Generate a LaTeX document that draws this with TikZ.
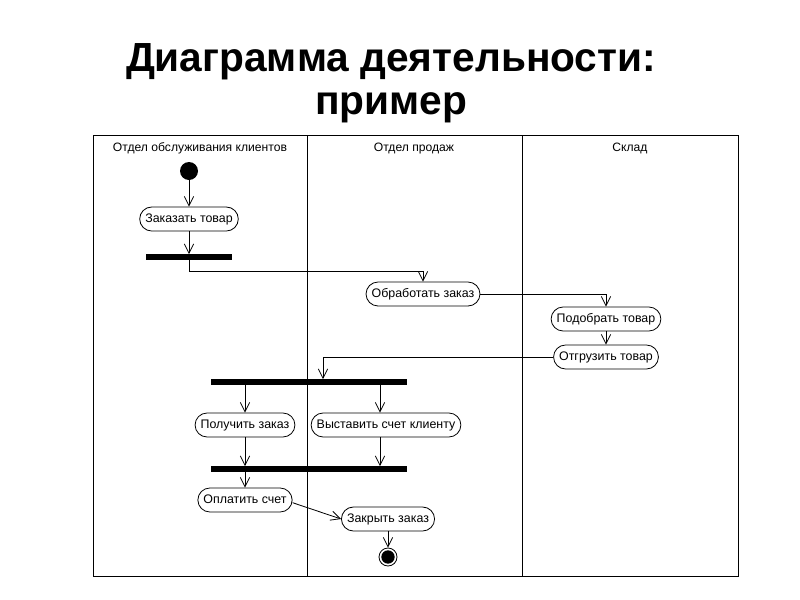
\documentclass[tikz,border=0pt]{standalone}
\usepackage{fontspec}
\setmainfont{Liberation Sans}
\usetikzlibrary{arrows.meta}
\begin{document}
\begin{tikzpicture}[x=0.75pt,y=-0.75pt,
  act/.style={draw, rounded corners=9pt, minimum height=18pt, inner xsep=4.2pt, inner ysep=0pt, text height=6.8pt, text depth=2pt, font=\fontsize{9.3}{11}\selectfont, line width=0.6pt},
  bar/.style={fill=black, inner sep=0pt, minimum height=4pt},
  flow/.style={draw, line width=0.6pt, -{Straight Barb[length=7pt,width=7pt]}},
  lanetitle/.style={font=\fontsize{9.1}{11}\selectfont, anchor=base},
  titletext/.style={font=\fontsize{30.5}{36}\bfseries\selectfont, anchor=base}
]
\useasboundingbox (0,0) rectangle (800,600);
% title
\node[titletext] (t1) at (391,71) {Диаграмма деятельности:};
\node[titletext] (t2) at (391,114) {пример};
% swimlanes
\draw[line width=0.7pt] (93,135) rectangle (738,576);
\draw[line width=0.7pt] (307,135) -- (307,576);
\draw[line width=0.7pt] (522,135) -- (522,576);
\node[lanetitle] (l1) at (200,151) {Отдел обслуживания клиентов};
\node[lanetitle] (l2) at (414,151) {Отдел продаж};
\node[lanetitle] (l3) at (630,151) {Склад};
% nodes
\node[circle, fill=black, minimum size=13.5pt, inner sep=0pt] (init) at (189,171) {};
\node[act] (order) at (189,219) {Заказать товар};
\node[bar, minimum width=64.5pt] (bar1) at (189,257) {};
\node[act] (process) at (423,294) {Обработать заказ};
\node[act] (pick) at (606,319) {Подобрать товар};
\node[act] (ship) at (606,357) {Отгрузить товар};
\node[bar, minimum width=147pt] (bar2) at (309,382) {};
\node[act] (get) at (245,425) {Получить заказ};
\node[act] (bill) at (386,425) {Выставить счет клиенту};
\node[bar, minimum width=147pt] (bar3) at (309,469) {};
\node[act] (pay) at (245,500) {Оплатить счет};
\node[act] (close) at (388,519) {Закрыть заказ};
\node[circle, draw, line width=0.6pt, minimum size=13.5pt, inner sep=0pt,
  path picture={\fill (path picture bounding box.center) circle (5pt);}] (final) at (388,557) {};
\coordinate (c323) at (323,0);
\coordinate (c380) at (380,0);
% flows
\draw[flow] (init) -- (order);
\draw[flow] (order) -- (bar1);
\draw[flow] (bar1.south) -- ++(0,11) -| (process.north);
\draw[flow] (process.east) -| (pick.north);
\draw[flow] (pick) -- (ship);
\draw[flow] (ship.west) -| (bar2.north -| c323);
\draw[flow] (bar2.south -| get.north) -- (get.north);
\draw[flow] (bar2.south -| c380) -- (bill.north -| c380);
\draw[flow] (get.south) -- (bar3.north -| get.south);
\draw[flow] (bill.south -| c380) -- (bar3.north -| c380);
\draw[flow] (bar3.south -| pay.north) -- (pay.north);
\draw[flow] ([yshift=-2pt]pay.east) -- (close.west);
\draw[flow] (close) -- (final);
\end{tikzpicture}
\end{document}
